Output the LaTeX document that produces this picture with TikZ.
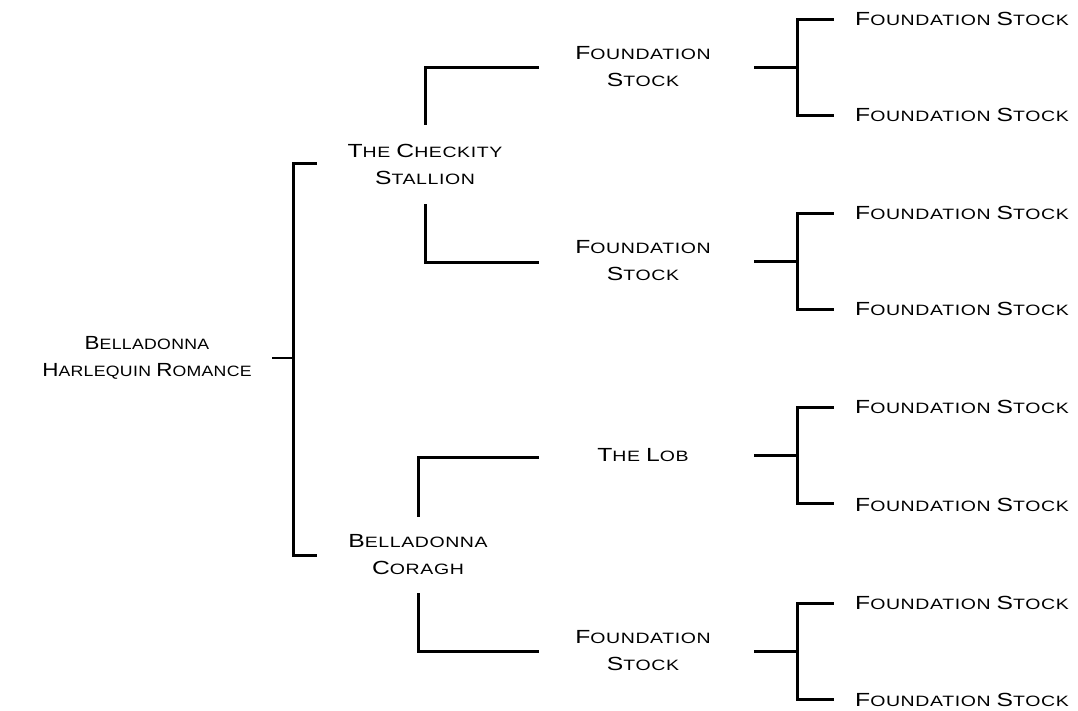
\documentclass[tikz,border=0pt]{standalone}
\usepackage{fontspec}
\newfontfamily\cpfont[FakeStretch=1.3,LetterSpace=4]{Liberation Sans}
\newfontfamily\cpfontn[FakeStretch=1.18,LetterSpace=2]{Liberation Sans}
\newcommand\SC[2]{{\fontsize{19}{27}\selectfont #1}{\fontsize{15}{27}\selectfont #2}}
\begin{document}
\begin{tikzpicture}[x=1pt,y=-1pt,
  lbl/.style={font=\cpfont\fontsize{15}{27}\selectfont, align=center, inner sep=0pt, text=black},
  leaf/.style={lbl, anchor=west},
  line/.style={line width=3pt, line cap=rect},
  thinline/.style={line width=1.6pt}]
\useasboundingbox (0,0) rectangle (1078,710);
% generation 1
\node[lbl, font=\cpfontn\fontsize{15}{27}\selectfont] (r) at (147,358) {\SC{B}{ELLADONNA}\\\SC{H}{ARLEQUIN} \SC{R}{OMANCE}};
% generation 2
\node[lbl] (c) at (425,164) {\SC{T}{HE} \SC{C}{HECKITY}\\\SC{S}{TALLION}};
\node[lbl] (g) at (418,555) {\SC{B}{ELLADONNA}\\\SC{C}{ORAGH}};
% generation 3
\node[lbl] (s1) at (643,67) {\SC{F}{OUNDATION}\\\SC{S}{TOCK}};
\node[lbl] (s2) at (643,261) {\SC{F}{OUNDATION}\\\SC{S}{TOCK}};
\node[lbl] (lob) at (643,455) {\SC{T}{HE} \SC{L}{OB}};
\node[lbl] (s4) at (643,651) {\SC{F}{OUNDATION}\\\SC{S}{TOCK}};
% generation 4
\foreach \i/\y in {1/19,2/115,3/213,4/309,5/407,6/505,7/603,8/700}
  \node[leaf] (f\i) at (855,\y) {\SC{F}{OUNDATION} \SC{S}{TOCK}};
% root bracket
\coordinate (rt) at (272,358); \coordinate (rb) at (293,358);
\coordinate (bt) at (315,163); \coordinate (bb) at (315,555);
\draw[thinline] (rt) -- (rb);
\draw[line] (bt) -| (rb) |- (bb);
% Checkity branches
\coordinate (ca) at (425,123); \coordinate (cb) at (425,205);
\coordinate (s1w) at (537,67); \coordinate (s2w) at (537,262);
\draw[line] (ca) |- (s1w);
\draw[line] (cb) |- (s2w);
% Coragh branches
\coordinate (ga) at (418,515); \coordinate (gb) at (418,594);
\coordinate (lobw) at (537,457); \coordinate (s4w) at (537,651);
\draw[line] (ga) |- (lobw);
\draw[line] (gb) |- (s4w);
% leaf brackets
\foreach \n/\y/\a/\b in {s1/67/1/2, s2/261/3/4, lob/455/5/6, s4/651/7/8}{
  \coordinate (\n t) at (755,\y);
  \coordinate (\n j) at (797,\y);
  \coordinate (\n a) at (832,\y-48);
  \coordinate (\n b) at (832,\y+48);
  \draw[line] (\n t) -- (\n j);
  \draw[line] (\n a) -| (\n j) |- (\n b);
}
\end{tikzpicture}
\end{document}
